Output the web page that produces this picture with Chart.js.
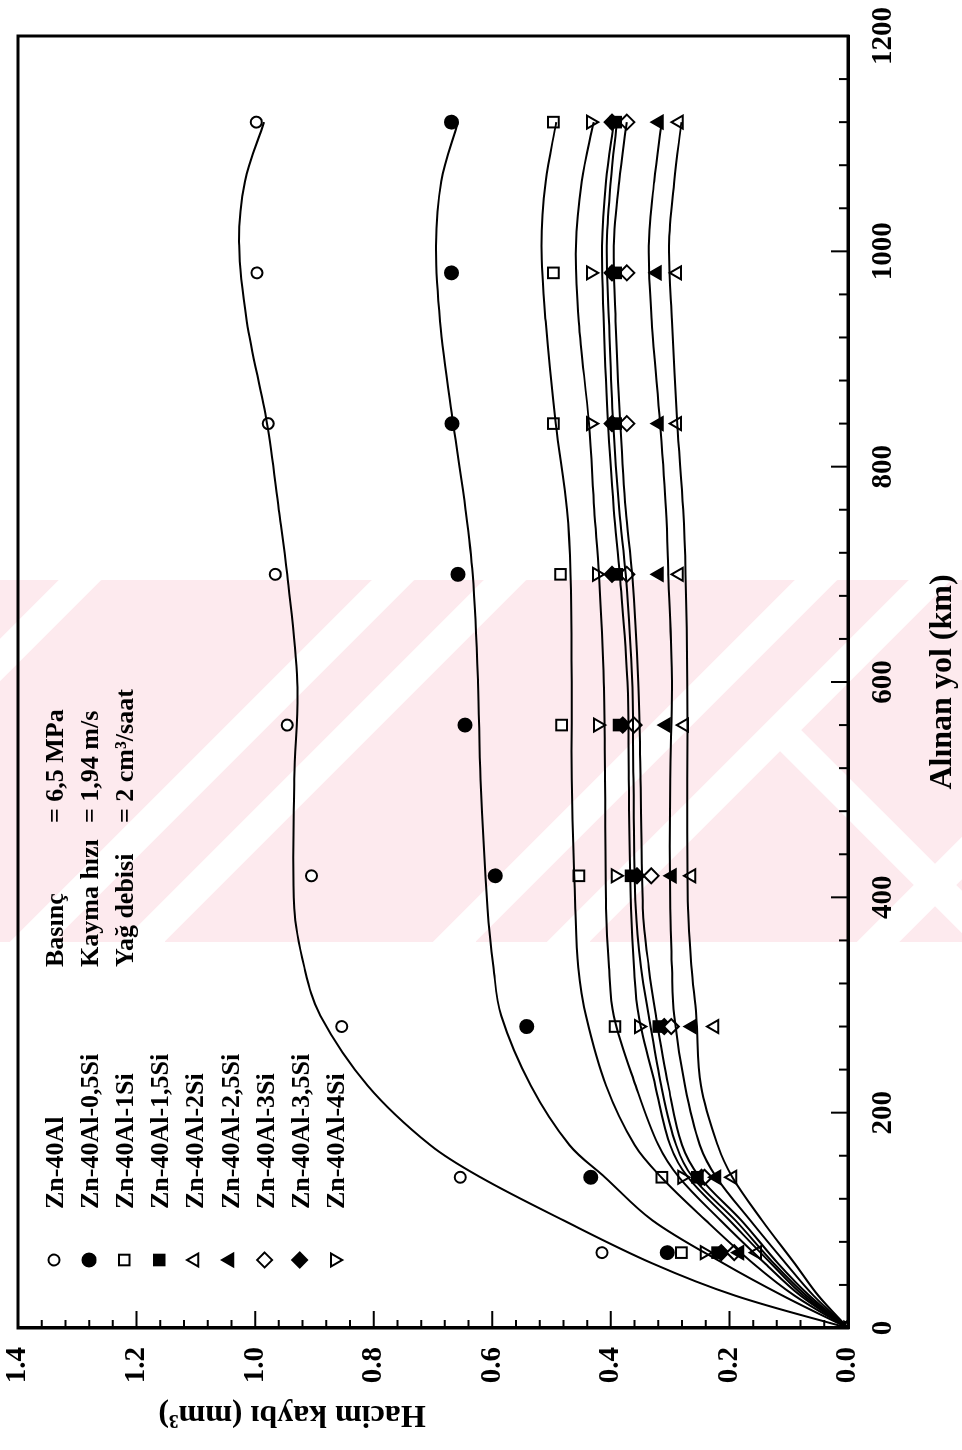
<!DOCTYPE html>
<html><head><meta charset="utf-8">
<script src="https://cdn.jsdelivr.net/npm/chart.js@4.4.1/dist/chart.umd.min.js"></script>
<style>
html,body{margin:0;padding:0;background:#fff;overflow:hidden;width:962px;height:1450px;}
#wrap{position:absolute;left:0;top:0;width:1450px;height:962px;transform-origin:0 0;transform:translate(0px,1450px) rotate(-90deg);background:#fff;}
canvas{display:block;}
</style></head><body>
<div id="wrap"><canvas id="c" width="1450" height="962"></canvas></div>
<script>
// ---- data ----
const kmPoints = [0, 70, 140, 280, 420, 560, 700, 840, 980, 1120];
const seriesNames = ['Zn-40Al','Zn-40Al-0,5Si','Zn-40Al-1Si','Zn-40Al-1,5Si','Zn-40Al-2Si','Zn-40Al-2,5Si','Zn-40Al-3Si','Zn-40Al-3,5Si','Zn-40Al-4Si'];
const v40Al = [0, 0.415, 0.654, 0.854, 0.905, 0.946, 0.966, 0.978, 0.997, 0.998];
const v05Si = [0, 0.305, 0.434, 0.542, 0.595, 0.646, 0.658, 0.668, 0.669, 0.669];
const v1Si  = [0, 0.281, 0.314, 0.393, 0.454, 0.483, 0.485, 0.497, 0.497, 0.497];
const v15Si = [0, 0.220, 0.254, 0.319, 0.366, 0.386, 0.390, 0.392, 0.392, 0.392];
const v2Si  = [0, 0.153, 0.195, 0.225, 0.264, 0.276, 0.285, 0.288, 0.288, 0.285];
const v25Si = [0, 0.183, 0.222, 0.263, 0.297, 0.307, 0.319, 0.319, 0.322, 0.319];
const v3Si  = [0, 0.192, 0.242, 0.298, 0.332, 0.361, 0.373, 0.373, 0.373, 0.373];
const v35Si = [0, 0.214, 0.247, 0.310, 0.356, 0.380, 0.398, 0.398, 0.398, 0.398];
const v4Si  = [0, 0.242, 0.280, 0.353, 0.392, 0.422, 0.424, 0.434, 0.434, 0.434];

const fitKm = [0, 30, 60, 100, 140, 170, 225, 290, 335, 390, 510, 600, 700, 760, 840, 935, 1005, 1065, 1120];
const f40Al = [0, 0.19, 0.33, 0.48, 0.62, 0.705, 0.81, 0.89, 0.917, 0.934, 0.934, 0.929, 0.946, 0.96, 0.98, 1.014, 1.027, 1.017, 0.985];
const f05Si = [0, 0.11, 0.21, 0.33, 0.41, 0.47, 0.535, 0.585, 0.598, 0.608, 0.62, 0.624, 0.633, 0.645, 0.666, 0.688, 0.695, 0.686, 0.658];
const f1Si  = [0, 0.09, 0.16, 0.24, 0.315, 0.36, 0.408, 0.442, 0.455, 0.46, 0.466, 0.466, 0.468, 0.474, 0.493, 0.51, 0.517, 0.51, 0.492];
const f15Si = [0, 0.075, 0.13, 0.2, 0.27, 0.30, 0.325, 0.353, 0.361, 0.366, 0.37, 0.372, 0.385, 0.395, 0.405, 0.412, 0.415, 0.408, 0.395];
const f2Si  = [0, 0.05, 0.09, 0.145, 0.195, 0.22, 0.248, 0.256, 0.264, 0.27, 0.271, 0.271, 0.274, 0.278, 0.288, 0.297, 0.302, 0.293, 0.281];
const f25Si = [0, 0.058, 0.105, 0.165, 0.222, 0.25, 0.275, 0.293, 0.297, 0.3, 0.3, 0.297, 0.303, 0.307, 0.317, 0.331, 0.336, 0.327, 0.314];
const f3Si  = [0, 0.065, 0.118, 0.18, 0.25, 0.28, 0.303, 0.324, 0.336, 0.346, 0.35, 0.354, 0.364, 0.375, 0.384, 0.392, 0.395, 0.386, 0.373];
const f35Si = [0, 0.07, 0.125, 0.19, 0.262, 0.29, 0.315, 0.336, 0.349, 0.358, 0.362, 0.364, 0.375, 0.386, 0.396, 0.403, 0.407, 0.4, 0.39];
const f4Si  = [0, 0.08, 0.14, 0.215, 0.285, 0.32, 0.358, 0.395, 0.403, 0.408, 0.41, 0.412, 0.42, 0.428, 0.437, 0.454, 0.459, 0.449, 0.429];

const kmTickValues = [0, 200, 400, 600, 800, 1000, 1200];
const volTickLabels = ['0.0', '0.2', '0.4', '0.6', '0.8', '1.0', '1.2', '1.4'];
const xTitle = 'Alınan yol (km)';
const yTitle = 'Hacim kaybı (mm³)';
const condLabels = ['Basınç', 'Kayma hızı', 'Yağ debisi'];
const condValues = ['= 6,5 MPa', '= 1,94 m/s', '= 2 cm³/saat'];

// ---- styles ----
const pointVals = [v40Al, v05Si, v1Si, v15Si, v2Si, v25Si, v3Si, v35Si, v4Si];
const fitVals = [f40Al, f05Si, f1Si, f15Si, f2Si, f25Si, f3Si, f35Si, f4Si];
const styles = [
  {ps:'circle', r:5.5, fill:'#fff', rot:0},
  {ps:'circle', r:6.5, fill:'#000', rot:0},
  {ps:'rect', r:7.5, fill:'#fff', rot:0},
  {ps:'rect', r:7.5, fill:'#000', rot:0},
  {ps:'triangle', r:7.5, fill:'#fff', rot:0},
  {ps:'triangle', r:7.5, fill:'#000', rot:0},
  {ps:'rectRot', r:7.5, fill:'#fff', rot:0},
  {ps:'rectRot', r:7.5, fill:'#000', rot:0},
  {ps:'triangle', r:7.5, fill:'#fff', rot:180}
];
const FONT = "'Liberation Serif', 'Times New Roman', serif";

const datasets = [];
fitVals.forEach((arr, i) => {
  datasets.push({
    type: 'line', label: seriesNames[i] + ' fit',
    data: fitKm.map((k, j) => ({x: k, y: arr[j]})),
    borderColor: '#000', borderWidth: 2, pointRadius: 0, tension: 0.35, fill: false
  });
});
pointVals.forEach((arr, i) => {
  const s = styles[i];
  datasets.push({
    type: 'scatter', label: seriesNames[i],
    data: kmPoints.map((k, j) => ({x: k, y: arr[j]})),
    pointStyle: s.ps, pointRadius: s.r, pointRotation: s.rot,
    backgroundColor: s.fill, borderColor: '#000', borderWidth: 2, showLine: false
  });
});

// faint background watermark band (page-level decoration)
const watermark = {
  id: 'watermark',
  beforeDraw(chart) {
    const ctx = chart.ctx;
    ctx.save();
    // draw in the page's (rotated) coordinates
    ctx.setTransform(0, 1, -1, 0, 1450, 0);
    ctx.beginPath();
    ctx.rect(0, 580, 962, 362);
    ctx.clip();
    ctx.fillStyle = '#fdeaee';
    ctx.fillRect(0, 580, 962, 362);
    ctx.strokeStyle = '#ffffff';
    ctx.lineWidth = 30;
    [660, 973, 1085, 1396, 1510, 1820].forEach(c => {
      ctx.beginPath();
      ctx.moveTo(c - 560, 560); ctx.lineTo(c - 990, 990);
      ctx.stroke();
    });
    ctx.beginPath();
    ctx.moveTo(780, 730); ctx.lineTo(1000, 950);
    ctx.stroke();
    ctx.restore();
  }
};

const decor = {
  id: 'decor',
  afterDraw(chart) {
    const ctx = chart.ctx, ca = chart.chartArea;
    const xs = chart.scales.x, ys = chart.scales.y;
    ctx.save();
    ctx.strokeStyle = '#000';
    ctx.lineWidth = 3;
    ctx.strokeRect(ca.left, ca.top, ca.right - ca.left, ca.bottom - ca.top);
    // ticks (inward)
    ctx.lineWidth = 2;
    ctx.beginPath();
    for (let k = 0; k <= 1200; k += 40) {
      const px = xs.getPixelForValue(k);
      const len = (k % 200 === 0) ? 17 : 9;
      ctx.moveTo(px, ca.bottom); ctx.lineTo(px, ca.bottom - len);
    }
    for (let i = 0; i <= 35; i++) {
      const v = i * 0.04;
      const py = ys.getPixelForValue(v);
      const len = (i % 5 === 0) ? 17 : 8;
      ctx.moveTo(ca.left, py); ctx.lineTo(ca.left + len, py);
    }
    ctx.stroke();
    // legend
    const legX = 190, legTextX = 241;
    seriesNames.forEach((name, i) => {
      const s = styles[i];
      const yy = 54 + 35.1 * i;
      ctx.fillStyle = s.fill; ctx.strokeStyle = '#000'; ctx.lineWidth = 2;
      Chart.helpers.drawPoint(ctx, {pointStyle: s.ps, radius: s.r, rotation: s.rot, borderWidth: 2}, legX, yy);
      ctx.fillStyle = '#000';
      ctx.font = "bold 26px " + FONT;
      ctx.textBaseline = 'alphabetic'; ctx.textAlign = 'left';
      ctx.fillText(name, legTextX, 63 + 35.1 * i);
    });
    // conditions
    condLabels.forEach((t, i) => {
      ctx.font = "bold 26px " + FONT;
      ctx.fillText(t, 483, 63 + 35.1 * i);
      ctx.fillText(condValues[i], 627, 63 + 35.1 * i);
    });
    // axis titles
    ctx.font = "bold 32px " + FONT;
    ctx.textAlign = 'center'; ctx.textBaseline = 'middle';
    ctx.fillText(xTitle, (ca.left + ca.right) / 2, 943);
    ctx.translate(36, 292);
    ctx.rotate(-Math.PI / 2);
    ctx.fillText(yTitle, 0, 0);
    ctx.restore();
  }
};

new Chart(document.getElementById('c'), {
  data: {datasets},
  options: {
    responsive: false, animation: false, devicePixelRatio: 1,
    layout: {padding: {top: 18, right: 36, left: 0, bottom: 0}},
    plugins: {legend: {display: false}, tooltip: {enabled: false}},
    scales: {
      x: {
        type: 'linear', min: 0, max: 1200,
        afterFit: s => { s.height = 114; s.paddingLeft = 0; s.paddingRight = 0; },
        afterBuildTicks: s => { s.ticks = kmTickValues.map(v => ({value: v})); },
        grid: {display: false, drawTicks: false},
        border: {display: true, color: '#000', width: 3},
        ticks: {color: '#000', font: {family: FONT, size: 29, weight: 'bold'}, padding: 18, maxRotation: 0,
                callback: v => String(v)}
      },
      y: {
        type: 'linear', min: 0, max: 1.4,
        afterFit: s => { s.width = 122; s.paddingTop = 0; s.paddingBottom = 0; },
        afterBuildTicks: s => { s.ticks = volTickLabels.map((t, i) => ({value: i * 0.2})); },
        grid: {display: false, drawTicks: false},
        border: {display: true, color: '#000', width: 3},
        ticks: {color: '#000', font: {family: FONT, size: 29, weight: 'bold'}, padding: 19,
                callback: (v, i) => volTickLabels[i]}
      }
    }
  },
  plugins: [watermark, decor]
});
</script>
</body></html>
